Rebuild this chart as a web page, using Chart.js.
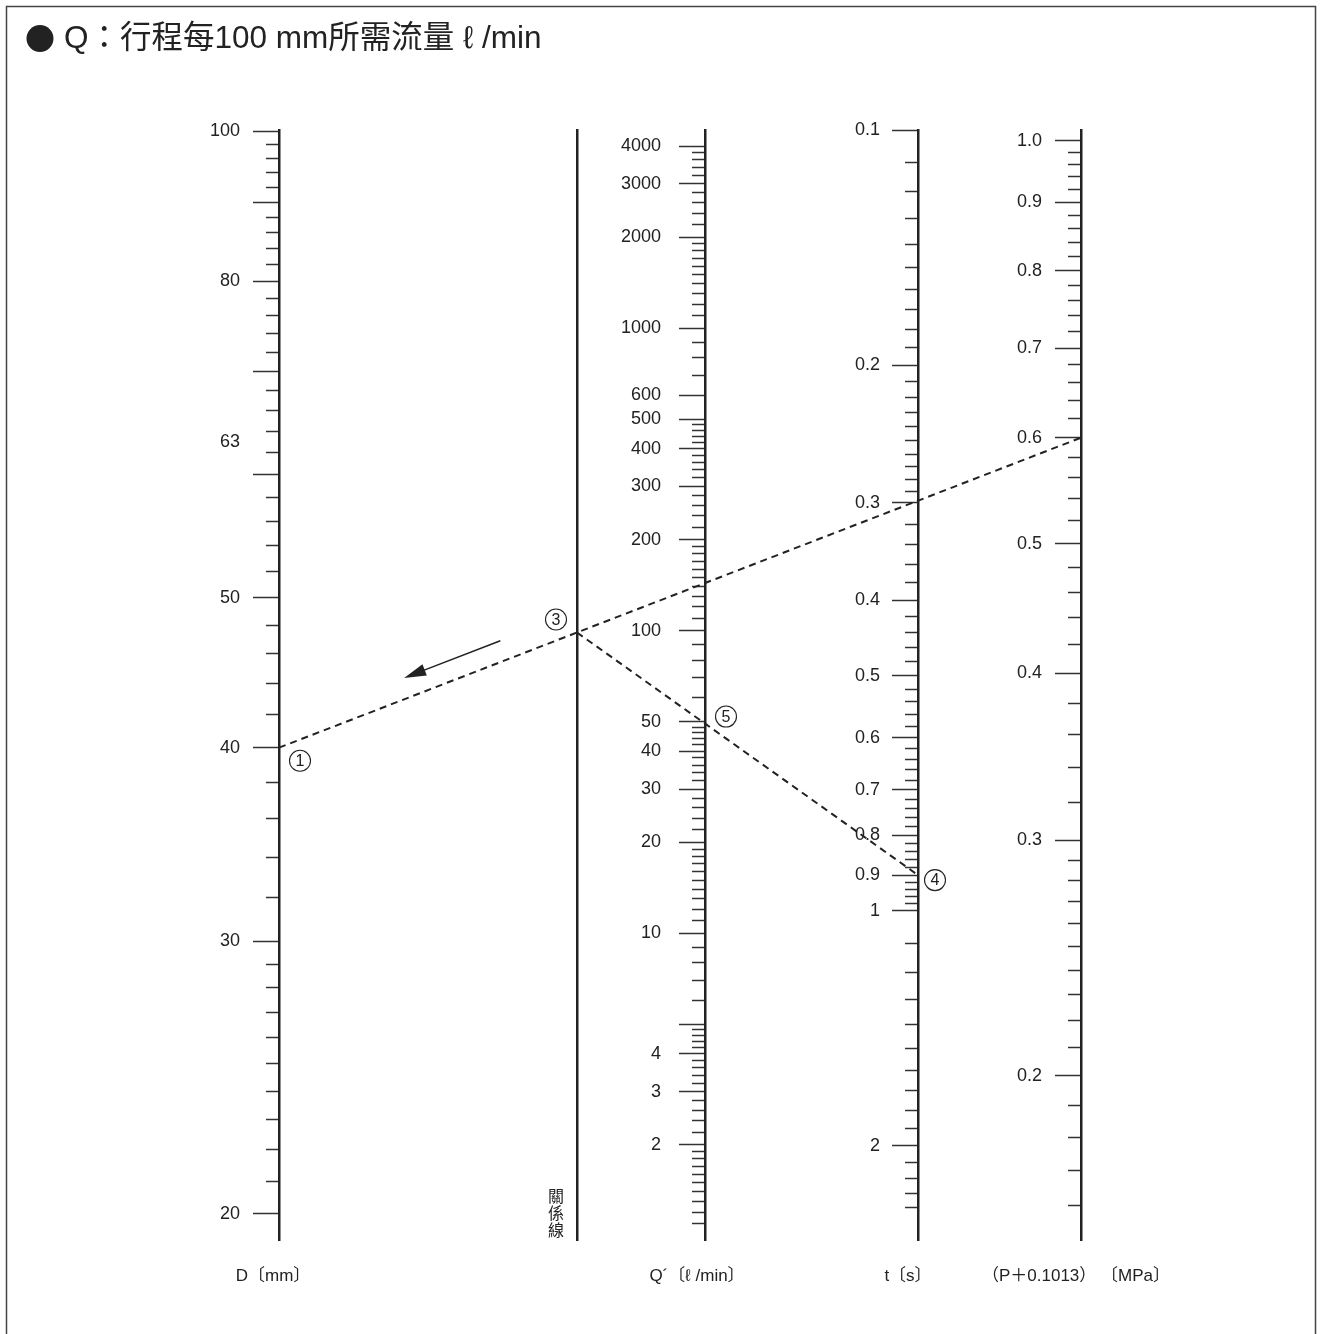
<!DOCTYPE html>
<html><head><meta charset="utf-8">
<script src="https://cdn.jsdelivr.net/npm/chart.js@4.4.1/dist/chart.umd.min.js"></script>
<style>html,body{margin:0;padding:0;background:#fff}#wrap{width:1322px;height:1334px;position:relative}</style>
</head><body><div id="wrap"><canvas id="c" width="1322" height="1334"></canvas></div>
<script>
// ---------------- data ----------------
const titleBullet = "●";
const titleText = "Q：行程每100 mm所需流量 ℓ /min";
const axisNames = ["D〔mm〕", "Q´〔ℓ /min〕", "t〔s〕", "（P＋0.1013） 〔MPa〕"];
const relationName = "關係線";

// D axis (cylinder bore, mm)
const dLongTicks = [100, 90, 80, 70, 60, 50, 40, 30, 20];
const dLabelValues = [100, 80, 63, 50, 40, 30, 20];
const dLabelTexts = ["100", "80", "63", "50", "40", "30", "20"];
const dShortTicks = [98, 96, 94, 92, 88, 86, 84, 82, 78, 76, 74, 72, 68, 66, 64, 62, 58, 56, 54, 52,
  48, 46, 44, 42, 38, 36, 34, 32, 29, 28, 27, 26, 25, 24, 23, 22, 21];

// Q' axis (l/min)
const qLongTicks = [4000, 3000, 2000, 1000, 600, 500, 400, 300, 200, 100, 50, 40, 30, 20, 10, 5, 4, 3, 2];
const qLabelValues = [4000, 3000, 2000, 1000, 600, 500, 400, 300, 200, 100, 50, 40, 30, 20, 10, 4, 3, 2];
const qLabelTexts = ["4000", "3000", "2000", "1000", "600", "500", "400", "300", "200", "100", "50", "40", "30", "20", "10", "4", "3", "2"];
const qShortTicks = [3800, 3600, 3400, 3200, 2800, 2600, 2400, 2200,
  1900, 1800, 1700, 1600, 1500, 1400, 1300, 1200, 1100, 900, 800, 700,
  480, 460, 440, 420, 380, 360, 340, 320, 280, 260, 240, 220,
  190, 180, 170, 160, 150, 140, 130, 120, 110, 90, 80, 70, 60,
  48, 46, 44, 42, 38, 36, 34, 32, 28, 26, 24, 22,
  19, 18, 17, 16, 15, 14, 13, 12, 11, 9, 8, 7, 6,
  4.8, 4.6, 4.4, 4.2, 3.8, 3.6, 3.4, 3.2, 2.8, 2.6, 2.4, 2.2,
  1.9, 1.8, 1.7, 1.6, 1.5, 1.4, 1.3, 1.2, 1.1];

// t axis (s)
const tLongTicks = [0.1, 0.2, 0.3, 0.4, 0.5, 0.6, 0.7, 0.8, 0.9, 1, 2];
const tLabelValues = [0.1, 0.2, 0.3, 0.4, 0.5, 0.6, 0.7, 0.8, 0.9, 1, 2];
const tLabelTexts = ["0.1", "0.2", "0.3", "0.4", "0.5", "0.6", "0.7", "0.8", "0.9", "1", "2"];
const tShortTicks = [0.11, 0.12, 0.13, 0.14, 0.15, 0.16, 0.17, 0.18, 0.19,
  0.21, 0.22, 0.23, 0.24, 0.25, 0.26, 0.27, 0.28, 0.29,
  0.32, 0.34, 0.36, 0.38, 0.42, 0.44, 0.46, 0.48, 0.52, 0.54, 0.56, 0.58,
  0.62, 0.64, 0.66, 0.68, 0.72, 0.74, 0.76, 0.78, 0.82, 0.84, 0.86, 0.88,
  0.92, 0.94, 0.96, 0.98, 1.1, 1.2, 1.3, 1.4, 1.5, 1.6, 1.7, 1.8, 1.9,
  2.1, 2.2, 2.3, 2.4];

// (P+0.1013) axis (MPa)
const pLongTicks = [1.0, 0.9, 0.8, 0.7, 0.6, 0.5, 0.4, 0.3, 0.2];
const pLabelValues = [1.0, 0.9, 0.8, 0.7, 0.6, 0.5, 0.4, 0.3, 0.2];
const pLabelTexts = ["1.0", "0.9", "0.8", "0.7", "0.6", "0.5", "0.4", "0.3", "0.2"];
const pShortTicks = [0.98, 0.96, 0.94, 0.92, 0.88, 0.86, 0.84, 0.82, 0.78, 0.76, 0.74, 0.72,
  0.68, 0.66, 0.64, 0.62, 0.58, 0.56, 0.54, 0.52, 0.48, 0.46, 0.44, 0.42,
  0.38, 0.36, 0.34, 0.32, 0.29, 0.28, 0.27, 0.26, 0.25, 0.24, 0.23, 0.22, 0.21,
  0.19, 0.18, 0.17, 0.16];

// example reading drawn on the nomogram
const exampleD = 40;    // ① bore
const exampleP = 0.6;   // pressure (absolute)
const exampleT = 0.9;   // ④ time

// ---------------- layout / style ----------------
const axisX = { D: 279, R: 577, Q: 705, T: 918, P: 1081 };   // horizontal layout units (px)
const labelGap = { D: 39, Q: 44, T: 38, P: 39 };
const nameX = [273, 697, 908, 1076];
const ranges = {
  D: { min: 19.24, max: 100.2, reverse: false },
  Q: { min: 0.97, max: 4518, reverse: false },
  T: { min: 0.1, max: 2.64, reverse: true },
  P: { min: 0.1508, max: 1.019, reverse: false }
};
const NUM_FONT = "'Liberation Sans', Arial, Helvetica, sans-serif";
const CJK_FONT = "'Liberation Sans', Arial, 'Noto Sans CJK TC', sans-serif";
const INK = '#222';
const TICK = '#333';

function baseLog(key, xPos) {
  const r = ranges[key];
  return { type: 'logarithmic', axis: 'y', position: { x: xPos }, min: r.min, max: r.max, reverse: r.reverse, bounds: 'data' };
}
function longScale(key, longTicks) {
  return Object.assign(baseLog(key, axisX[key]), {
    afterBuildTicks: s => { s.ticks = longTicks.map(v => ({ value: v })); },
    ticks: { display: false, autoSkip: false },
    grid: { drawOnChartArea: false, drawTicks: true, tickLength: 25, tickWidth: 1.5, color: TICK, tickColor: TICK },
    border: { display: true, width: 2.5, color: INK }
  });
}
function shortScale(key, shortTicks) {
  return Object.assign(baseLog(key, axisX[key]), {
    afterBuildTicks: s => { s.ticks = shortTicks.map(v => ({ value: v })); },
    ticks: { display: false, autoSkip: false },
    grid: { drawOnChartArea: false, drawTicks: true, tickLength: 13, tickWidth: 1.5, color: TICK, tickColor: TICK },
    border: { display: false }
  });
}
function labelScale(key, labelValues, labelTexts) {
  const lab = new Map(labelValues.map((v, i) => [v, labelTexts[i]]));
  return Object.assign(baseLog(key, axisX[key] - labelGap[key]), {
    afterBuildTicks: s => { s.ticks = labelValues.map(v => ({ value: v })); },
    ticks: {
      autoSkip: false, padding: 0, color: INK,
      font: { family: NUM_FONT, size: 18 },
      callback: v => (lab.has(v) ? lab.get(v) : '')
    },
    grid: { display: false, drawOnChartArea: false, drawTicks: false },
    border: { display: false }
  });
}

const nomogramPlugin = {
  id: 'nomogram',
  afterDraw(chart) {
    const ctx = chart.ctx;
    const ca = chart.chartArea;
    const pD = chart.getDatasetMeta(0).data[0];
    const pP = chart.getDatasetMeta(1).data[0];
    const pT = chart.getDatasetMeta(2).data[0];
    const xR = chart.scales.x.getPixelForValue(axisX.R);
    const xQ = chart.scales.x.getPixelForValue(axisX.Q);
    const k = (xR - pD.x) / (pP.x - pD.x);
    const pR = { x: xR, y: pD.y + k * (pP.y - pD.y) };
    const k2 = (xQ - pR.x) / (pT.x - pR.x);
    const pQ = { x: xQ, y: pR.y + k2 * (pT.y - pR.y) };

    ctx.save();
    // frame
    ctx.strokeStyle = '#444'; ctx.lineWidth = 1.5;
    ctx.strokeRect(6.5, 6.5, 1309, 1345);

    // title
    ctx.fillStyle = INK; ctx.textBaseline = 'middle'; ctx.textAlign = 'left';
    ctx.font = "30px 'Noto Sans CJK TC', sans-serif";
    ctx.fillText(titleBullet, 25, 39);
    ctx.font = "31.5px " + CJK_FONT;
    ctx.fillText(titleText, 64, 39);

    // dashed construction lines
    ctx.strokeStyle = INK; ctx.lineWidth = 2; ctx.setLineDash([7, 5]);
    ctx.beginPath(); ctx.moveTo(pD.x, pD.y); ctx.lineTo(pP.x, pP.y); ctx.stroke();
    ctx.beginPath(); ctx.moveTo(pR.x, pR.y); ctx.lineTo(pT.x, pT.y); ctx.stroke();
    ctx.setLineDash([]);

    // arrow parallel to first line
    const dx = pP.x - pD.x, dy = pP.y - pD.y, len = Math.hypot(dx, dy);
    const ux = dx / len, uy = dy / len, nx = uy, ny = -ux;
    const off = 20;
    const a0 = { x: pD.x + 0.285 * dx + nx * off, y: pD.y + 0.285 * dy + ny * off };
    const a1 = { x: pD.x + 0.165 * dx + nx * off, y: pD.y + 0.165 * dy + ny * off };
    ctx.lineWidth = 1.5;
    ctx.beginPath(); ctx.moveTo(a0.x, a0.y); ctx.lineTo(a1.x + ux * 16, a1.y + uy * 16); ctx.stroke();
    ctx.fillStyle = INK;
    ctx.beginPath();
    ctx.moveTo(a1.x, a1.y);
    ctx.lineTo(a1.x + ux * 22 + nx * 6, a1.y + uy * 22 + ny * 6);
    ctx.lineTo(a1.x + ux * 22 - nx * 6, a1.y + uy * 22 - ny * 6);
    ctx.closePath(); ctx.fill();

    // circled step numbers
    const marks = [
      { p: pD, dx: 21, dy: 13, t: '1' },
      { p: pR, dx: -21, dy: -13, t: '3' },
      { p: pT, dx: 17, dy: 5, t: '4' },
      { p: pQ, dx: 21, dy: -7, t: '5' }
    ];
    ctx.font = '16px ' + NUM_FONT;
    ctx.textAlign = 'center'; ctx.textBaseline = 'middle';
    marks.forEach(m => {
      const cx = m.p.x + m.dx, cy = m.p.y + m.dy;
      ctx.fillStyle = '#fff';
      ctx.beginPath(); ctx.arc(cx, cy, 10.5, 0, Math.PI * 2); ctx.fill();
      ctx.strokeStyle = INK; ctx.lineWidth = 1.1; ctx.stroke();
      ctx.fillStyle = INK; ctx.fillText(m.t, cx, cy + 1);
    });

    // vertical label of relation line
    ctx.font = "16px 'Noto Sans CJK TC', sans-serif";
    ctx.fillStyle = INK;
    Array.from(relationName).forEach((ch, i) => {
      ctx.fillText(ch, xR - 21, ca.bottom - 44 + i * 17);
    });
    ctx.restore();
  }
};

const scales = {
  x: {
    type: 'linear', min: 27, max: 1322, position: 'bottom',
    afterBuildTicks: s => { s.ticks = nameX.map(v => ({ value: v })); },
    afterFit: s => { s.height = 94; },
    ticks: {
      autoSkip: false, maxRotation: 0, padding: 26, color: INK,
      font: { family: CJK_FONT, size: 17 },
      callback: (v, i) => axisNames[i]
    },
    grid: { display: false, drawTicks: false },
    border: { display: false }
  },
  yR: {
    type: 'linear', axis: 'y', position: { x: axisX.R }, min: 0, max: 1,
    ticks: { display: false }, grid: { display: false, drawTicks: false },
    border: { display: true, width: 2.5, color: INK }
  },
  yDS: shortScale('D', dShortTicks),
  yDL: longScale('D', dLongTicks),
  yDT: labelScale('D', dLabelValues, dLabelTexts),
  yQS: shortScale('Q', qShortTicks),
  yQL: longScale('Q', qLongTicks),
  yQT: labelScale('Q', qLabelValues, qLabelTexts),
  yTS: shortScale('T', tShortTicks),
  yTL: longScale('T', tLongTicks),
  yTT: labelScale('T', tLabelValues, tLabelTexts),
  yPS: shortScale('P', pShortTicks),
  yPL: longScale('P', pLongTicks),
  yPT: labelScale('P', pLabelValues, pLabelTexts)
};

new Chart(document.getElementById('c'), {
  type: 'scatter',
  data: {
    datasets: [
      { label: 'D', data: [{ x: axisX.D, y: exampleD }], yAxisID: 'yDL', pointRadius: 0 },
      { label: 'P', data: [{ x: axisX.P, y: exampleP }], yAxisID: 'yPL', pointRadius: 0 },
      { label: 't', data: [{ x: axisX.T, y: exampleT }], yAxisID: 'yTL', pointRadius: 0 }
    ]
  },
  options: {
    responsive: false, animation: false, devicePixelRatio: 1,
    layout: { padding: { left: 27, right: 0, top: 130, bottom: 0 } },
    plugins: { legend: { display: false }, tooltip: { enabled: false }, title: { display: false } },
    scales: scales
  },
  plugins: [nomogramPlugin]
});
</script>
</body></html>
